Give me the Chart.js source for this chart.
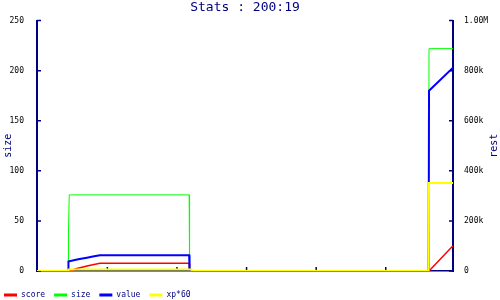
<!DOCTYPE html>
<html>
<head>
<meta charset="utf-8">
<script src="https://cdn.jsdelivr.net/npm/chart.js@4"></script>
<style>
  body { margin: 0; background: #fff; }
  #wrap { width: 500px; height: 300px; }
</style>
</head>
<body>
<div id="wrap"><canvas id="myChart"></canvas></div>
<script>
// Sample times along the x axis
const times = [13, 92, 93, 95, 101, 112, 125, 140, 155, 173, 400, 401, 406, 407, 1009, 1010, 1071];

// Series (size on the left axis, the rest on the right one)
const sizeValues = [0, 0, 38, 76, 76, 76, 76, 76, 76, 76, 76, 0, 0, 0, 0, 222, 222];
const scoreValues = [0, 0, 0, 0, 2000, 8800, 14000, 20000, 25200, 30800, 30800, 0, 0, 0, 0, 0, 101000];
const valueValues = [0, 0, 38000, 39200, 41200, 44800, 48800, 53200, 58000, 63200, 63200, 0, 0, 0, 0, 720000, 812000];
const xpValues = [0, 0, 5600, 5600, 5600, 5600, 5600, 5600, 5600, 5600, 5600, 5600, 5600, 0, 0, 351000, 351000];

// Tick labels
const xTicks = [13, 192, 369, 546, 723, 900, 1071];
const restTicks = ["0", "200k", "400k", "600k", "800k", "1.00M"];

const navy = "#000080";
const mono = "DejaVu Sans Mono";

function points(values) {
  return times.map((t, i) => ({ x: t, y: values[i] }));
}

// Short tick marks pointing into the plot, plus the right axis title
const axisMarks = {
  id: "axisMarks",
  afterLayout(chart) {
    chart.legend.left = -5;
  },
  beforeDatasetsDraw(chart) {
    const ctx = chart.ctx;
    const area = chart.chartArea;
    const { x, y, y1 } = chart.scales;
    ctx.save();
    ctx.strokeStyle = navy;
    ctx.lineWidth = 1.5;
    ctx.beginPath();
    x.ticks.forEach((t) => {
      const px = x.getPixelForValue(t.value);
      ctx.moveTo(px, area.bottom);
      ctx.lineTo(px, area.bottom - 4);
    });
    y.ticks.forEach((t) => {
      const py = y.getPixelForValue(t.value);
      ctx.moveTo(area.left, py);
      ctx.lineTo(area.left + 4, py);
    });
    y1.ticks.forEach((t) => {
      const py = y1.getPixelForValue(t.value);
      ctx.moveTo(area.right, py);
      ctx.lineTo(area.right - 4, py);
    });
    ctx.stroke();
    ctx.restore();
  },
  afterDraw(chart) {
    const ctx = chart.ctx;
    const area = chart.chartArea;
    ctx.save();
    ctx.translate(494, (area.top + area.bottom) / 2);
    ctx.rotate(-Math.PI / 2);
    ctx.fillStyle = navy;
    ctx.font = "10px '" + mono + "'";
    ctx.textAlign = "center";
    ctx.textBaseline = "middle";
    ctx.fillText("rest", 0, 0);
    ctx.restore();
  },
};

const tickFont = { family: mono, size: 8 };

new Chart("myChart", {
  type: "line",
  data: {
    datasets: [
      { label: "score", data: points(scoreValues), yAxisID: "y1", borderColor: "#ff0000", backgroundColor: "#ff0000", borderWidth: 1.5, order: 3 },
      { label: "size", data: points(sizeValues), yAxisID: "y", borderColor: "#00ff00", backgroundColor: "#00ff00", borderWidth: 1, order: 2 },
      { label: "value", data: points(valueValues), yAxisID: "y1", borderColor: "#0000ff", backgroundColor: "#0000ff", borderWidth: 2, order: 1 },
      { label: "xp*60", data: points(xpValues), yAxisID: "y1", borderColor: "#ffff00", backgroundColor: "#ffff00", borderWidth: 2, order: 0 },
    ],
  },
  options: {
    responsive: true,
    maintainAspectRatio: false,
    animation: false,
    events: [],
    elements: {
      point: { radius: 0 },
      line: { tension: 0 },
    },
    layout: { padding: 0 },
    scales: {
      x: {
        type: "linear",
        min: 13,
        max: 1071,
        afterBuildTicks: (axis) => {
          axis.ticks = xTicks.map((v) => ({ value: v }));
        },
        afterFit: (axis) => {
          axis.height = 11;
        },
        grid: { display: false },
        border: { color: navy, width: 1.5 },
        ticks: {
          font: tickFont,
          color: "#000",
          padding: 4,
          maxRotation: 0,
          autoSkip: false,
          callback: (v, i) => String(xTicks[i]),
        },
      },
      y: {
        position: "left",
        min: 0,
        max: 250,
        afterFit: (axis) => {
          axis.width = 37;
        },
        grid: { display: false },
        border: { color: navy, width: 2 },
        ticks: { stepSize: 50, font: tickFont, color: "#000", padding: 5 },
        title: {
          display: true,
          text: "size",
          color: navy,
          font: { family: mono, size: 10 },
          padding: { top: 2, bottom: 0 },
        },
      },
      y1: {
        position: "right",
        min: 0,
        max: 1000000,
        afterFit: (axis) => {
          axis.width = 47;
        },
        grid: { display: false },
        border: { color: navy, width: 2 },
        ticks: {
          stepSize: 200000,
          font: tickFont,
          color: "#000",
          padding: 3,
          callback: (v, i) => restTicks[i],
        },
      },
    },
    plugins: {
      title: {
        display: true,
        text: "Stats : 200:19",
        color: navy,
        fullSize: false,
        font: { family: mono, size: 13, weight: "normal" },
        padding: { top: 0, bottom: 5 },
      },
      legend: {
        position: "bottom",
        align: "start",
        reverse: true,
        maxHeight: 18,
        labels: {
          boxWidth: 13,
          boxHeight: 3,
          padding: 9,
          color: navy,
          font: { family: mono, size: 8 },
          generateLabels: (chart) =>
            Chart.defaults.plugins.legend.labels
              .generateLabels(chart)
              .map((item) => ({ ...item, lineWidth: 0 })),
        },
      },
      tooltip: { enabled: false },
    },
  },
  plugins: [axisMarks],
});
</script>
</body>
</html>
